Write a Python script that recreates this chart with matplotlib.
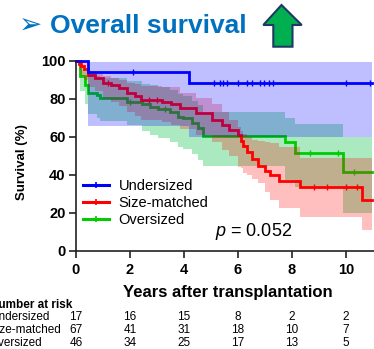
import numpy as np
import matplotlib
matplotlib.use('Agg')
import matplotlib.pyplot as plt
from matplotlib.lines import Line2D
from matplotlib.patches import Polygon
import matplotlib.transforms as mtransforms

plt.rcParams['font.family'] = ['Liberation Sans', 'DejaVu Sans']
plt.rcParams['mathtext.fontset'] = 'custom'
plt.rcParams['mathtext.it'] = 'Liberation Sans:italic'
plt.rcParams['mathtext.rm'] = 'Liberation Sans'

# ---------------- data ----------------
groups = ['Undersized', 'Size-matched', 'Oversized']

under_t = [0, 0.45, 4.2, 10.98]
under_s = [100, 94.1, 88.2, 88.2]
under_lo = [100, 65.6, 60.0, 60.0]
under_hi = [100, 99.5, 99.5, 99.5]
under_cens = [2.1, 5.1, 5.35, 5.45, 5.6, 6.0, 6.35, 6.5, 6.8, 6.95, 7.15, 7.3, 10.0, 10.9]

match_t = [0, 0.1, 0.2, 0.3, 0.45, 0.7, 1.0, 1.3, 1.6, 1.9, 2.2, 2.4, 3.2, 3.5, 3.85,
           4.45, 5.05, 5.4, 5.65, 6.0, 6.1, 6.2, 6.35, 6.5, 6.75, 7.0, 7.2, 7.5, 8.3, 10.6, 10.98]
match_s = [100, 98.5, 97, 95.5, 92.5, 91, 88.5, 87, 85.5, 83, 81.5, 79.5, 78, 77, 75,
           72.5, 69, 66, 63.5, 61, 58, 55, 52, 48.5, 44.5, 42, 39.8, 36.5, 33.5, 26.5, 26.5]
match_hi = [100, 100, 99.5, 99, 93.5, 93, 92, 91, 90, 88.5, 87.5, 86.5, 86, 86, 83,
            80.5, 77, 73, 69, 65, 63, 61.5, 60, 58.5, 57.5, 57, 56.5, 54.7, 48.8, 48.8, 48.8]
match_lo = [100, 95, 92, 90, 86, 84, 80, 78, 76, 73, 71, 69, 67.5, 66, 64,
            61, 57, 53, 50, 44, 43.5, 41, 40, 38, 35.6, 31, 26.7, 22.5, 17.7, 11, 11]
match_cens = [1.2, 2.7, 3.0, 8.8, 9.3, 10.0, 10.4]

over_t = [0, 0.15, 0.33, 0.45, 0.78, 0.9, 1.88, 2.43, 2.74, 3.05, 3.48, 3.79, 3.97,
          4.28, 4.53, 4.72, 7.75, 8.1, 9.9, 10.98]
over_s = [100, 92, 87, 83, 82, 80.2, 78.5, 77, 75.8, 74.4, 72.8, 70.5, 69.7,
          67, 64.4, 60.4, 57.2, 51.2, 41.3, 41.3]
over_hi = [100, 98, 96, 93, 92, 91, 89.5, 88, 87, 86, 84.5, 82.5, 81.5,
           79, 76.5, 73, 70, 66.6, 60, 60]
over_lo = [100, 84, 77, 72, 70, 68.5, 66, 63, 61, 59.5, 57, 54.5, 53.5,
           51, 48, 44.5, 37, 33.7, 19.8, 19.8]
over_cens = [2.0, 3.3, 8.65, 9.7, 10.3]

risk_times = [0, 2, 4, 6, 8, 10]
risk_under = [17, 16, 15, 8, 2, 2]
risk_match = [67, 41, 31, 18, 10, 7]
risk_over = [46, 34, 25, 17, 13, 5]

p_text = '0.052'

# ---------------- style ----------------
line_colors = ['#0000FF', '#FF0000', '#00CC00']
band_colors = ['#0000FF', '#FF0000', '#00C040']
band_alpha = [0.25, 0.25, 0.33]

W, H = 374, 349
def px(x, y):
    return (x / W, 1 - y / H)

fig = plt.figure(figsize=(W / 100, H / 100), dpi=100)
ax = fig.add_axes([76 / W, (H - 250.7) / H, 1 - 76 / W, (250.7 - 60.7) / H])
ax.set_xlim(0, 298 / 27)
ax.set_ylim(0, 100)

series = [
    (under_t, under_s, under_lo, under_hi, under_cens),
    (match_t, match_s, match_lo, match_hi, match_cens),
    (over_t, over_s, over_lo, over_hi, over_cens),
]

# draw order: oversized band+line, size-matched band+line, undersized band+line
for k, i in enumerate([2, 1, 0]):
    t, s, lo, hi, cens = series[i]
    t = np.asarray(t, float)
    s = np.asarray(s, float)
    zb = 1 + 2 * k
    ax.fill_between(t, lo, hi, step='post', color=band_colors[i],
                    alpha=band_alpha[i], lw=0, zorder=zb)
    ax.step(t, s, where='post', color=line_colors[i], lw=2.0, zorder=zb + 1,
            clip_on=False, solid_joinstyle='miter')
    idx = np.searchsorted(t, np.asarray(cens), side='right') - 1
    ax.plot(cens, s[idx], ls='none', marker='|', ms=4.5, mew=1.0,
            color=line_colors[i], zorder=zb + 1, clip_on=False)

for sp in ['top', 'right']:
    ax.spines[sp].set_visible(False)
for sp in ['left', 'bottom']:
    ax.spines[sp].set_linewidth(1.2)
    ax.spines[sp].set_color('#222222')
    ax.spines[sp].set_zorder(10)

ax.set_xticks(risk_times, labels=[str(v) for v in risk_times], fontweight='bold')
ax.set_yticks([0, 20, 40, 60, 80, 100],
              labels=['0', '20', '40', '60', '80', '100'], fontweight='bold')
ax.tick_params(axis='both', length=5, width=1.2, color='#222222', labelsize=10.5)
ax.tick_params(axis='x', pad=3.5)
ax.tick_params(axis='y', pad=2.5)

# legend
handles = [Line2D([0], [0], color=c, lw=2.2, marker='|', ms=4.5, mew=1.2)
           for c in line_colors]
leg = ax.legend(handles, groups, loc='upper left', bbox_to_anchor=px(83, 179),
                bbox_transform=fig.transFigure, frameon=False, fontsize=10.5,
                handlelength=1.75, handletextpad=0.7, labelspacing=0.22,
                borderpad=0, borderaxespad=0, numpoints=1)
leg.set_zorder(20)

# p value
fig.text(*px(215, 232), r'$p$ = ' + p_text, fontsize=13, ha='left', va='center')

# axis labels
fig.text(*px(22, 162), 'Survival (%)', rotation=90, fontsize=9.5,
         fontweight='bold', ha='center', va='center')
fig.text(*px(228, 293), 'Years after transplantation', fontsize=12,
         fontweight='bold', ha='center', va='center')

# title
fig.text(*px(19, 34), '\u27A2', family=['DejaVu Sans'], fontsize=20,
         color='#0070C0', ha='left', va='baseline')
fig.text(*px(50, 33.3), 'Overall survival', fontsize=19, fontweight='bold',
         color='#0070C0', ha='left', va='baseline')

# green up arrow
arrow_px = [(281.5, 5), (301.7, 25), (292.5, 25), (292.5, 46.7),
            (273.3, 46.7), (273.3, 25), (263.3, 25)]
fig.patches.append(Polygon([px(x, y) for x, y in arrow_px], closed=True,
                           transform=fig.transFigure, facecolor='#00B050',
                           edgecolor='#1F3864', lw=1.5))

# number at risk table
trans = mtransforms.blended_transform_factory(ax.transData, fig.transFigure)
fig.text(-10 / W, 1 - 305 / H, 'Number at risk', fontsize=8.5, fontweight='bold',
         ha='left', va='center')
rows = [(groups[0], risk_under, 317.5), (groups[1], risk_match, 330),
        (groups[2], risk_over, 342.5)]
for name, vals, yy in rows:
    fig.text(-10 / W, 1 - yy / H, name, fontsize=8.5, ha='left', va='center')
    for tt, v in zip(risk_times, vals):
        ax.text(tt, 1 - yy / H, str(v), transform=trans, fontsize=8.5,
                ha='center', va='center', clip_on=False)

fig.savefig('out.png', dpi=100)
